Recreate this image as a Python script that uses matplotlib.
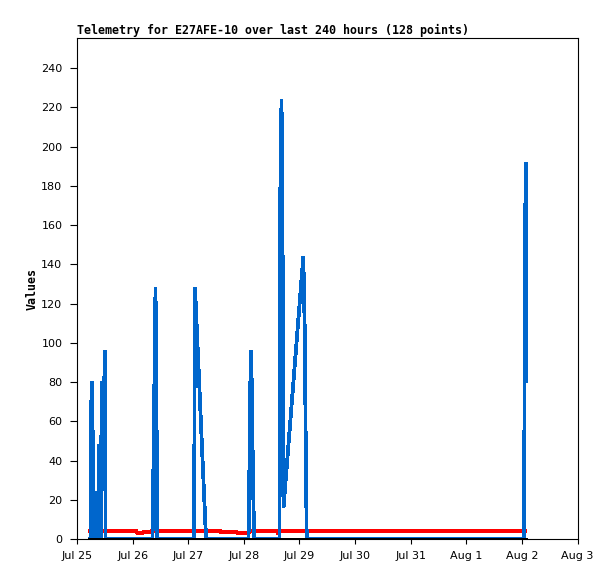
import numpy as np
import pandas as pd
import matplotlib
matplotlib.use("Agg")
import matplotlib.pyplot as plt
import matplotlib.dates as mdates

# data, times are hours after Jul 25 00:00
start = pd.Timestamp("2023-07-25 00:00")

blue_hours = [4.88, 5.83, 6.04, 6.47, 6.91, 7.25, 7.77, 7.98, 8.20, 8.72, 9.15, 9.50, 9.84,
              10.19, 10.70, 11.35, 12.00, 12.34,
              32.59, 33.10, 33.88, 34.31, 34.66,
              50.50, 50.93, 55.46, 55.89,
              74.02, 74.54, 74.97, 75.40, 75.75, 76.18, 76.52,
              87.40, 87.74, 88.26, 88.69, 89.12, 97.67, 98.32, 98.71, 99.14,
              192.93, 193.36, 193.79, 194.00]
blue_values = [0, 0, 64, 80, 40, 0, 0, 8, 0, 24, 0, 48, 24,
               0, 80, 48, 96, 0,
               0, 48, 128, 64, 0,
               0, 128, 6, 0,
               0, 48, 96, 80, 48, 16, 0,
               0, 176, 224, 160, 16, 144, 104, 48, 0,
               0, 160, 192, 80]

red_hours = [4.88, 25.46, 26.1, 28.5, 28.9, 31.5, 32.4, 49.9, 50.3, 50.9, 61.7, 62.1,
             68.6, 69.1, 74.2, 74.7, 86.5, 86.9, 87.4, 194.0]
red_values = [4.2, 4.2, 3.2, 3.2, 3.6, 3.6, 4.2, 4.2, 3.4, 4.2, 4.2, 3.6,
              3.6, 3.2, 3.2, 4.2, 4.2, 2.6, 4.2, 4.2]

black_hours = [4.88, 194.0]
black_values = [0, 0]

y_ticks = list(range(0, 241, 20))


def to_time(hours):
    return start + pd.to_timedelta(hours, unit="h")


def main():
    fig = plt.figure(figsize=(6.15, 5.79), dpi=100)
    ax = fig.add_axes([77 / 615, 40 / 579, 500.5 / 615, 501 / 579])

    line_kw = dict(lw=2.0, antialiased=False, solid_joinstyle="miter", solid_capstyle="butt")
    ax.plot(to_time(red_hours), red_values, color="#ff0000", **line_kw)
    ax.plot(to_time(blue_hours), blue_values, color="#0066cc", **line_kw)
    ax.plot(to_time(black_hours), black_values, color="black", **line_kw)

    ax.set_xlim(start, start + pd.Timedelta(days=9))
    ax.set_ylim(0, 255.3)
    ax.set_yticks(y_ticks)
    ax.xaxis.set_major_locator(mdates.DayLocator())
    ax.xaxis.set_major_formatter(mdates.DateFormatter("%b %-d"))

    ax.tick_params(axis="y", length=5, width=0.8, pad=5.5, labelsize=8)
    ax.tick_params(axis="x", length=3.6, width=0.8, pad=5, labelsize=8)
    for s in ax.spines.values():
        s.set_linewidth(0.8)

    ax.set_title("Telemetry for E27AFE-10 over last 240 hours (128 points)", loc="left",
                 fontfamily="DejaVu Sans Mono", fontweight="bold", fontsize=8.4, pad=3)
    ax.set_ylabel("Values", fontfamily="DejaVu Sans Mono", fontweight="bold", fontsize=8.4)
    ax.yaxis.set_label_coords(-0.077, 0.5)

    fig.savefig("out.png", dpi=100)


if __name__ == "__main__":
    main()
